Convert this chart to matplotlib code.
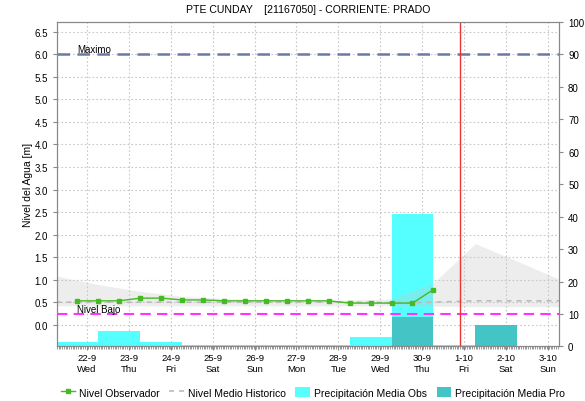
import numpy as np
import pandas as pd
import matplotlib
matplotlib.use("Agg")
import matplotlib.pyplot as plt
from matplotlib.lines import Line2D
from matplotlib.patches import Patch

plt.rcParams["font.family"] = ["Liberation Sans", "DejaVu Sans"]

# days shown on the x axis (0 = 22-9)
days = pd.date_range("2021-09-22", "2021-10-03", freq="D")
day_labels = [f"{d.day}-{d.month}\n{d.strftime('%a')}" for d in days]

# observed level every 12 h [m]
nivel_obs = [0.53, 0.53, 0.53, 0.59, 0.59, 0.55, 0.55, 0.53, 0.53,
             0.53, 0.53, 0.53, 0.53, 0.48, 0.48, 0.48, 0.48, 0.78]

# historic level: envelope and mean, daily at 07:00 [m]
hist_max = [1.08, 0.89, 0.74, 0.63, 0.58, 0.56, 0.55, 0.55, 0.57, 0.93, 1.80, 1.41, 1.01]
hist_min = [0.42, 0.42, 0.42, 0.42, 0.42, 0.42, 0.42, 0.42, 0.42, 0.41, 0.40, 0.40, 0.40]
hist_mean = [0.50, 0.50, 0.50, 0.50, 0.50, 0.50, 0.50, 0.50, 0.49, 0.50, 0.53, 0.53, 0.53]

# daily precipitation [mm], observed and forecast
precip_obs = [1.3, 4.9, 1.3, 0.5, 0.5, 0.5, 0.5, 3.0, 40.8, 0.45, 0.0, 0.0]
precip_pro = [0.0, 0.0, 0.0, 0.0, 0.0, 0.0, 0.0, 0.0, 9.0, 0.0, 6.5, 0.0]

nivel_maximo = 6.0
nivel_bajo = 0.23
ahora = 8.9

x_obs = -0.23 + 0.5 * np.arange(len(nivel_obs))
x_hist = -0.73 + np.arange(len(hist_max))
x_bar = -0.23 + np.arange(len(precip_obs))

fig = plt.figure(figsize=(5.85, 4.02), dpi=100)
ax = fig.add_axes([0.0974, 0.1356, 0.8582, 0.8072])
ax2 = ax.twinx()

ax.set_xlim(-0.72, 11.27)
ax.set_ylim(-0.483, 6.717)
ax2.set_ylim(0, 100)

# precipitation bars live on the right-hand scale
ax.bar(x_bar, precip_obs, width=1.0, color="#55ffff", edgecolor="none",
       transform=ax2.transData, zorder=1)
ax.bar(x_bar, precip_pro, width=1.0, color="#44c4c4", edgecolor="none",
       transform=ax2.transData, zorder=1.1)

ax.fill_between(x_hist, hist_min, hist_max, color="#c8c8c8", alpha=0.32,
                linewidth=0, zorder=2)
ax.plot(x_hist, hist_mean, color="#bbbbbb", linestyle=(0, (3, 3)), linewidth=1.2, zorder=2.5)

ax.axhline(nivel_maximo, color="#6a7aa6", linestyle=(0, (5, 3)), linewidth=1.8, zorder=3)
ax.axhline(nivel_bajo, color="#ff33ff", linestyle=(0, (5, 3)), linewidth=1.5, zorder=3)
ax.text(-0.23, nivel_maximo + 0.05, "Maximo", fontsize=7, zorder=4)
ax.text(-0.23, nivel_bajo + 0.05, "Nivel Bajo", fontsize=7, zorder=4)

ax.plot(x_obs, nivel_obs, color="#44bb22", linewidth=1, marker="s",
        markersize=3, zorder=5)
ax.axvline(ahora, color="#ee3333", linewidth=1, zorder=5)

ax.set_xticks(np.arange(len(days)))
ax.set_xticklabels(day_labels, fontsize=6.8, linespacing=1.25)
ax.set_xticks(np.arange(-0.72, 11.27, 1 / 24), minor=True)
ax.tick_params(axis="x", which="major", length=3, pad=2, color="#888888")
ax.tick_params(axis="x", which="minor", length=2, color="#888888")

ax.set_yticks(np.arange(0, 6.51, 0.5))
ax.set_yticklabels([f"{v:.1f}" for v in np.arange(0, 6.51, 0.5)], fontsize=7)
ax.tick_params(axis="y", length=3, color="#888888")
ax2.set_yticks(np.arange(0, 101, 10))
ax2.tick_params(axis="y", labelsize=7, length=3, color="#888888")

ax.set_axisbelow(True)
ax.grid(True, color="#c8c8c8", linestyle=(0, (1.5, 2)), linewidth=0.8)
for a in (ax, ax2):
    for s in a.spines.values():
        s.set_color("#888888")

ax.set_ylabel("Nivel del Agua [m]", fontsize=7.5, labelpad=1)
ax.set_title("PTE CUNDAY    [21167050] - CORRIENTE: PRADO", fontsize=7.6, pad=7)

handles = [
    Line2D([], [], color="#44bb22", marker="s", markersize=3, linewidth=1),
    Line2D([], [], color="#bbbbbb", linestyle=(0, (3, 3)), linewidth=1.2),
    Patch(facecolor="#55ffff", edgecolor="none"),
    Patch(facecolor="#44c4c4", edgecolor="none"),
]
labels = ["Nivel Observador", "Nivel Medio Historico",
          "Precipitación Media Obs", "Precipitación Media Pro"]
leg = fig.legend(handles, labels, loc="center", bbox_to_anchor=(0.535, 0.022), ncol=4,
                 frameon=False, fontsize=7.5, handlelength=1.4, handletextpad=0.4,
                 columnspacing=0.9, handleheight=1.2)

fig.savefig("out.png", dpi=100)
